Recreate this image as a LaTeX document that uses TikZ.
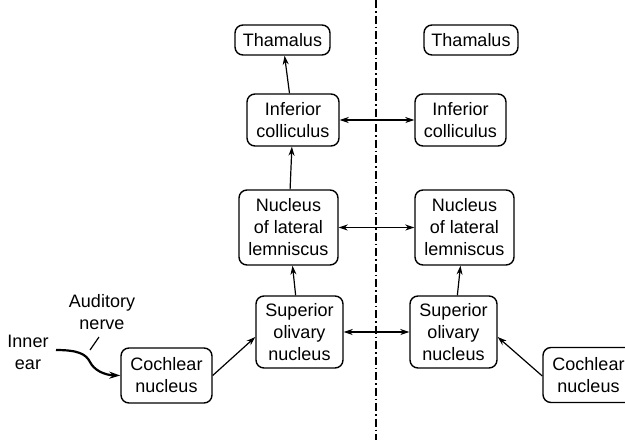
\documentclass[tikz,border=0pt]{standalone}
\usepackage{fontspec}
\setmainfont{Liberation Sans}
\usetikzlibrary{arrows.meta}
\begin{document}
\begin{tikzpicture}[x=1pt,y=-1pt,
  box/.style={draw,line width=1.4pt,rounded corners=8pt,align=center,inner sep=0pt,
    font=\fontsize{18}{22}\selectfont},
  lbl/.style={align=center,inner sep=0pt,font=\fontsize{18}{22}\selectfont},
  arr/.style={line width=1.2pt,-{Stealth[length=9pt,width=6pt]}},
  darr/.style={line width=1.2pt,{Stealth[length=9pt,width=6pt]}-{Stealth[length=9pt,width=6pt]}}]
\useasboundingbox (0,0) rectangle (625,440);
\clip (0,0) rectangle (625,440);
% midline
\draw[line width=1.4pt,dash pattern=on 8pt off 3pt on 1.5pt off 3pt] (376,0) -- (376,440);
% left column
\node[box,minimum width=95pt,minimum height=30pt] (ThL) at (282.5,40) {Thamalus};
\node[box,minimum width=92pt,minimum height=52pt] (ICL) at (293,120) {Inferior\\colliculus};
\node[box,minimum width=99pt,minimum height=75pt] (NLL) at (288.5,227.5) {Nucleus\\of lateral\\lemniscus};
\node[box,minimum width=87pt,minimum height=72pt] (SOL) at (299.5,332) {Superior\\olivary\\nucleus};
\node[box,minimum width=91pt,minimum height=55pt] (CNL) at (166.5,375.5) {Cochlear\\nucleus};
% right column
\node[box,minimum width=94pt,minimum height=30pt] (ThR) at (471,40) {Thamalus};
\node[box,minimum width=91pt,minimum height=52pt] (ICR) at (460.5,120) {Inferior\\colliculus};
\node[box,minimum width=99pt,minimum height=75pt] (NLR) at (464.5,227.5) {Nucleus\\of lateral\\lemniscus};
\node[box,minimum width=87pt,minimum height=72pt] (SOR) at (453.5,332) {Superior\\olivary\\nucleus};
\node[box,minimum width=91pt,minimum height=55pt] (CNR) at (588.5,375) {Cochlear\\nucleus};
% labels
\node[lbl] (inner) at (28,352) {Inner\\ear};
\node[lbl] (aud) at (102,312) {Auditory\\nerve};
\coordinate (tickA) at (90,350);
\coordinate (tickB) at (99,337);
\coordinate (nerveS) at (56,350);
\draw[line width=1.2pt] (tickA) -- (tickB);
\draw[line width=2.2pt,-{Stealth[length=11pt,width=7pt]}] (nerveS) .. controls (78,350) and (86,354) .. (90,362) .. controls (94,370) and (104,375) .. (CNL.west);
% ascending arrows
\draw[arr] (ICL) -- (ThL);
\draw[arr] (NLL) -- (ICL);
\draw[arr] (SOL) -- (NLL);
\draw[arr] (CNL.east) -- ([yshift=-5pt]SOL.west);
\draw[arr] (SOR) -- (NLR);
\draw[arr] ([yshift=-1pt]CNR.west) -- ([yshift=-5pt]SOR.east);
% crossing arrows
\draw[darr] (ICL) -- (ICR);
\draw[darr] (NLL) -- (NLR);
\draw[darr] (SOL) -- (SOR);
\end{tikzpicture}
\end{document}
